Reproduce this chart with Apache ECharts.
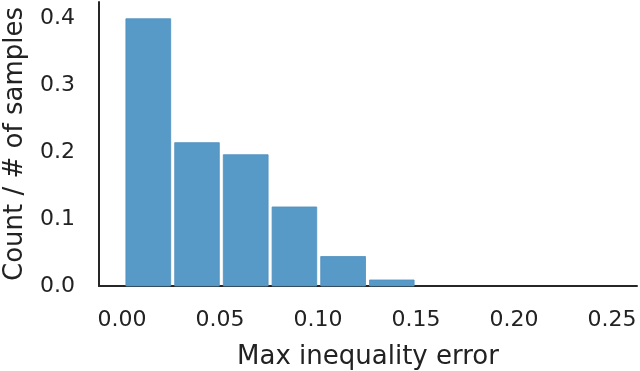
<!DOCTYPE html>
<html>
<head>
<meta charset="utf-8">
<script src="https://cdn.jsdelivr.net/npm/echarts@6/dist/echarts.min.js"></script>
<style>html,body{margin:0;padding:0;background:#fff}#c{width:640px;height:371px}</style>
</head>
<body>
<div id="c"></div>
<script>
// Histogram bin edges (Max inequality error)
const binEdges = [0.0010, 0.0259, 0.0507, 0.0756, 0.1004, 0.1253, 0.1501, 0.1750, 0.1998, 0.2247, 0.2495];
// Normalised counts per bin (Count / # of samples)
const counts = [0.399, 0.214, 0.196, 0.118, 0.044, 0.009, 0, 0, 0, 0];
const xTicks = [0.00, 0.05, 0.10, 0.15, 0.20, 0.25];
const yTicks = [0.0, 0.1, 0.2, 0.3, 0.4];
const xLabel = 'Max inequality error';
const yLabel = 'Count / # of samples';

const data = counts.map((c, i) => [binEdges[i], binEdges[i + 1], c]);
const chart = echarts.init(document.getElementById('c'), null, {renderer: 'canvas'});
const FONT = 'DejaVu Sans';
chart.setOption({
  animation: false,
  grid: {left: 99, right: 3, top: 2, bottom: 85, containLabel: false, outerBoundsMode: 'none'},
  xAxis: {
    type: 'value', min: -0.0117, max: 0.2628,
    name: xLabel, nameLocation: 'middle', nameGap: 58,
    nameTextStyle: {fontFamily: FONT, fontSize: 26, color: '#222222'},
    splitLine: {show: false},
    axisLine: {show: true, onZero: false, lineStyle: {color: '#262626', width: 2}},
    axisTick: {show: false},
    axisLabel: {customValues: xTicks, formatter: v => v.toFixed(2), fontFamily: FONT, fontSize: 22, color: '#222222', margin: 23}
  },
  yAxis: {
    type: 'value', min: 0, max: 0.424,
    name: yLabel, nameLocation: 'middle', nameGap: 71, nameRotate: 90,
    nameTextStyle: {fontFamily: FONT, fontSize: 26, color: '#222222'},
    splitLine: {show: false},
    axisLine: {show: true, onZero: false, lineStyle: {color: '#262626', width: 2}},
    axisTick: {show: false},
    axisLabel: {customValues: yTicks, formatter: v => v.toFixed(1), fontFamily: FONT, fontSize: 22, color: '#222222', margin: 24}
  },
  series: [{
    type: 'custom',
    data: data,
    encode: {x: [0, 1], y: 2},
    renderItem: function (params, api) {
      const p0 = api.coord([api.value(0), api.value(2)]);
      const p1 = api.coord([api.value(1), 0]);
      if (api.value(2) <= 0) return null;
      return {
        type: 'rect',
        shape: {x: p0[0] + 2, y: p0[1], width: p1[0] - p0[0] - 4, height: p1[1] - p0[1]},
        style: {fill: '#5799c7', stroke: '#4f90bf', lineWidth: 0.8}
      };
    }
  }]
});
</script>
</body>
</html>
